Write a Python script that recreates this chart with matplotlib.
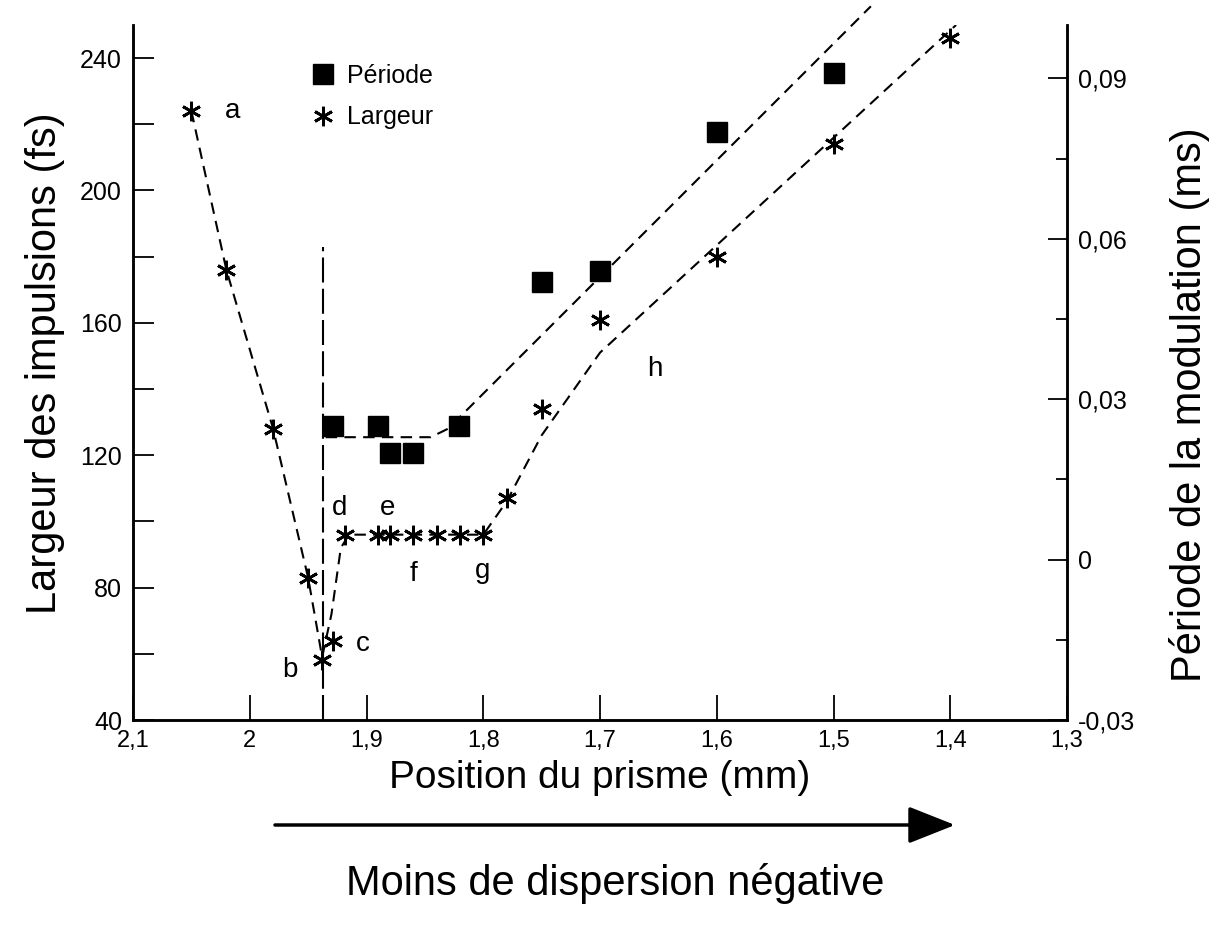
import matplotlib
matplotlib.use("Agg")
import matplotlib.pyplot as plt
from matplotlib.lines import Line2D
from matplotlib.ticker import MultipleLocator, FuncFormatter

plt.rcParams["font.family"] = ["Liberation Sans", "DejaVu Sans"]

# Largeur des impulsions (fs), axe de gauche
pos_largeur = [2.05, 2.02, 1.98, 1.95, 1.938, 1.929, 1.918, 1.89, 1.88, 1.86,
               1.84, 1.82, 1.80, 1.78, 1.75, 1.70, 1.60, 1.50, 1.40]
largeur = [224, 176, 128, 83, 58, 64, 96, 96, 96, 96,
           96, 96, 96, 107, 134, 161, 180, 214, 246]

# Période de la modulation (ms), axe de droite
pos_periode = [1.929, 1.89, 1.88, 1.86, 1.821, 1.75, 1.70, 1.60, 1.50]
periode = [0.025, 0.025, 0.020, 0.020, 0.025, 0.052, 0.054, 0.080, 0.091]

# courbes tracées à la main (tirets)
fit_largeur_x = [2.05, 2.02, 1.98, 1.95, 1.938, 1.93, 1.922, 1.915, 1.80, 1.78, 1.75, 1.70, 1.395]
fit_largeur_y = [224, 176, 128, 83, 59, 72, 92, 96, 96, 106, 126, 151, 250]
fit_periode_x = [1.935, 1.845, 1.83, 1.468]
fit_periode_y = [0.0229, 0.0229, 0.0245, 0.1035]

# annotations a..h (x, largeur)
lettres = ["a", "b", "c", "d", "e", "f", "g", "h"]
lettres_x = [2.015, 1.966, 1.903, 1.923, 1.882, 1.860, 1.801, 1.653]
lettres_y = [224, 55, 63, 104, 104, 84, 85, 146]


def virgule(v, pos):
    s = "%g" % round(v, 4)
    return s.replace(".", ",")


W, H = 1214, 927
fig = plt.figure(figsize=(W / 100, H / 100), dpi=100)
ax = fig.add_axes([133 / W, 1 - 720 / H, (1067 - 133) / W, (720 - 25) / H])
ax2 = ax.twinx()

asterisque = (6, 2, 0)
dash = (0, (5.5, 3.5))

ax.plot(fit_largeur_x, fit_largeur_y, color="black", lw=1.5, ls=dash)
ax.plot(pos_largeur, largeur, ls="none", marker=asterisque, ms=14, mew=2, color="black")
ax.plot([1.937, 1.937], [40, 183], color="black", lw=1.5, ls=(0, (12, 3)))

ax2.plot(fit_periode_x, fit_periode_y, color="black", lw=1.5, ls=dash, clip_on=False)
ax2.plot(pos_periode, periode, ls="none", marker="s", ms=14, color="black")

for t, x, y in zip(lettres, lettres_x, lettres_y):
    ax.text(x, y, t, fontsize=20, ha="center", va="center")

ax.set_xlim(2.1, 1.3)
ax.set_ylim(40, 250)
ax2.set_ylim(-0.03, 0.1)

ax.xaxis.set_major_locator(MultipleLocator(0.1))
ax.xaxis.set_major_formatter(FuncFormatter(virgule))
ax.yaxis.set_major_locator(MultipleLocator(40))
ax.yaxis.set_minor_locator(MultipleLocator(20))
ax2.yaxis.set_major_locator(MultipleLocator(0.03))
ax2.yaxis.set_minor_locator(MultipleLocator(0.015))
ax2.yaxis.set_major_formatter(FuncFormatter(virgule))

ax.tick_params(axis="x", direction="in", length=18, width=1.3, labelsize=17, pad=7)
ax.tick_params(axis="y", which="both", direction="in", length=15, width=1.3, labelsize=18, pad=8)
ax2.tick_params(axis="y", which="major", direction="in", length=14, width=1.3, labelsize=18, pad=8)
ax2.tick_params(axis="y", which="minor", direction="in", length=8, width=1.3)

for a in (ax, ax2):
    a.spines["top"].set_visible(False)
    for s in ("left", "right", "bottom"):
        a.spines[s].set_linewidth(1.8)

# titres des axes
fig.text(45 / W, 1 - 363 / H, "Largeur des impulsions (fs)", fontsize=30,
         rotation=90, ha="center", va="center")
fig.text(1190 / W, 1 - 405 / H, "Période de la modulation (ms)", fontsize=30,
         rotation=90, ha="center", va="center")
fig.text(600 / W, 1 - 788 / H, "Position du prisme (mm)", fontsize=28,
         ha="center", va="baseline")

handles = [
    Line2D([], [], ls="none", marker="s", ms=14, color="black", label="Période"),
    Line2D([], [], ls="none", marker=asterisque, ms=14, mew=2, color="black", label="Largeur"),
]
ax.legend(handles=handles, loc="upper left", bbox_to_anchor=(0.190, 0.944), frameon=False,
          fontsize=18, handletextpad=0.45, labelspacing=0.7, handlelength=1.0,
          borderpad=0, borderaxespad=0)

# flèche sous l'axe
y_fl = 1 - 825 / H
ax.annotate("", xy=(955 / W, y_fl), xytext=(275 / W, y_fl),
            xycoords="figure fraction", textcoords="figure fraction",
            arrowprops=dict(arrowstyle="-|>,head_length=2.9,head_width=1.15",
                            lw=2.5, color="black", mutation_scale=10,
                            shrinkA=0, shrinkB=0))
fig.text(615 / W, 1 - 883 / H, "Moins de dispersion négative", fontsize=30,
         ha="center", va="center")

fig.savefig("out.png", dpi=100)
